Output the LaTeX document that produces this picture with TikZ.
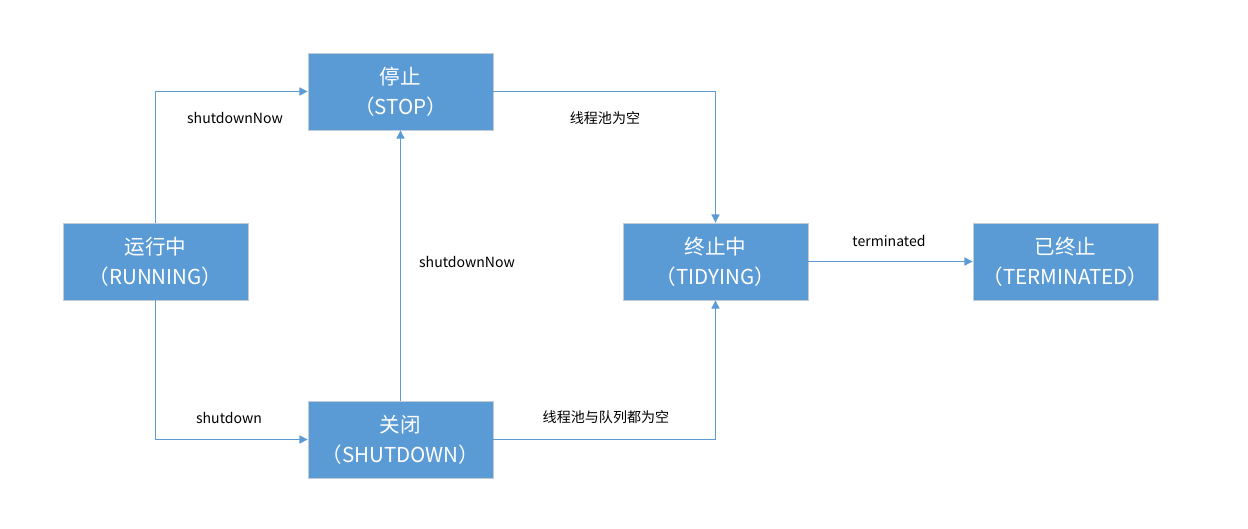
\documentclass[tikz,border=0pt]{standalone}
\usepackage{fontspec}
\setmainfont{Noto Sans CJK SC}
\usepackage{tikz}
\usetikzlibrary{positioning, arrows.meta, shadows}
\usepackage{xcolor}
\definecolor{stateblue}{HTML}{5B9BD5}
\definecolor{stateedge}{HTML}{C3CCD6}

\begin{document}
\begin{tikzpicture}[
    >={Triangle[length=4.6pt, width=4.6pt]},
    statenode/.style={rectangle, draw=stateedge, line width=0.5pt, fill=stateblue, minimum width=3.7cm, minimum height=1.54cm, inner sep=1pt, align=center, text=white, font=\fontsize{11.7pt}{17pt}\selectfont, drop shadow={opacity=0.12, shadow xshift=0.8pt, shadow yshift=-0.8pt}},
    flow/.style={->, draw=stateblue, line width=0.6pt},
    flowlabel/.style={font=\fontsize{8pt}{9pt}\selectfont, text=black},
]

% === Frame ===
\useasboundingbox (0, 0) rectangle (24.96, -10.56);

% === States ===
\node[statenode] (running) at (3.11, -5.23) {运行中\\（RUNNING）};
\node[statenode] (stop) at (8.01, -1.83) {停止\\（STOP）};
\node[statenode] (shutdown) at (8.01, -8.79) {关闭\\（SHUTDOWN）};
\node[statenode] (tidying) at (14.31, -5.23) {终止中\\（TIDYING）};
\node[statenode] (terminated) at (21.31, -5.23) {已终止\\（TERMINATED）};

% === Transitions ===
\draw[flow] (running.north) |- (stop.west);
\draw[flow] (running.south) |- (shutdown.west);
\draw[flow] (shutdown.north) -- (stop.south);
\draw[flow] (stop.east) -| (tidying.north);
\draw[flow] (shutdown.east) -| (tidying.south);
\draw[flow] (tidying.east) -- (terminated.west);

% === Transition labels ===
\node[flowlabel] (lbnowa) at (4.70, -2.36) {shutdownNow};
\node[flowlabel] (lbnowb) at (9.34, -5.24) {shutdownNow};
\node[flowlabel] (lbpool) at (12.10, -2.36) {线程池为空};
\node[flowlabel] (lbterm) at (17.78, -4.82) {terminated};
\node[flowlabel] (lbshut) at (4.58, -8.36) {shutdown};
\node[flowlabel] (lbqueue) at (12.12, -8.34) {线程池与队列都为空};

\end{tikzpicture}
\end{document}
